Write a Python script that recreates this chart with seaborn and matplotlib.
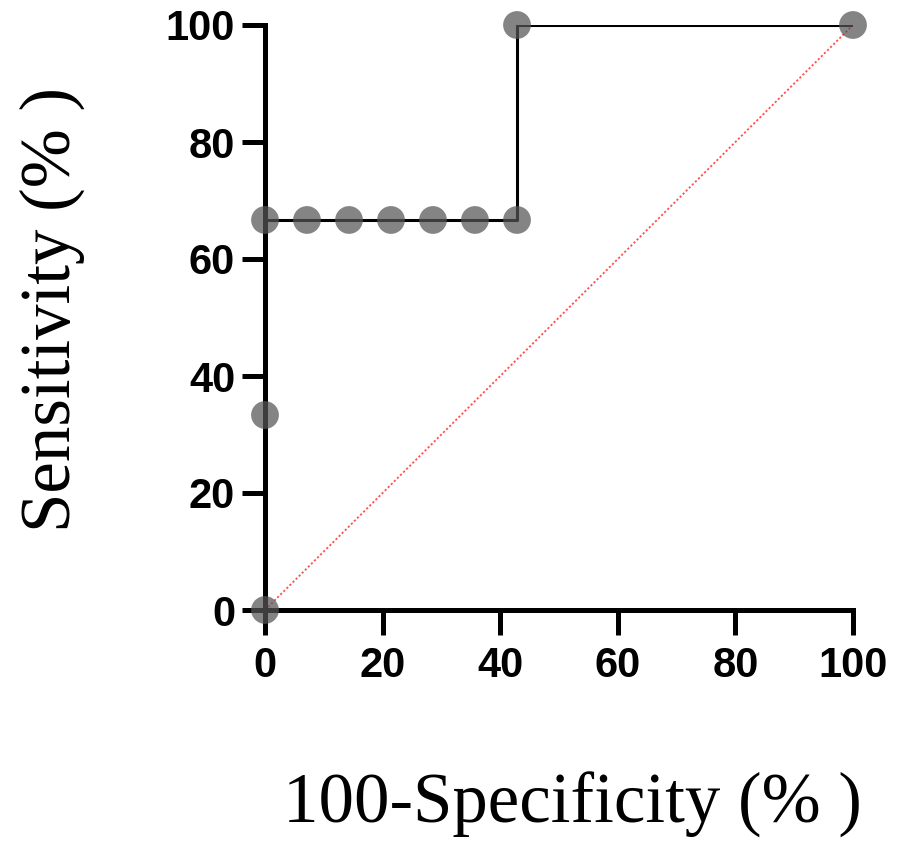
import matplotlib
matplotlib.use("Agg")
import matplotlib.pyplot as plt
import seaborn as sns
import pandas as pd

# ROC data (100-Specificity %, Sensitivity %)
fpr = [0, 0, 0, 7.14, 14.29, 21.43, 28.57, 35.71, 42.86, 42.86, 100]
tpr = [0, 33.33, 66.67, 66.67, 66.67, 66.67, 66.67, 66.67, 66.67, 100, 100]
diag_x = [0, 100]
diag_y = [0, 100]
xticks = [0, 20, 40, 60, 80, 100]
yticks = [0, 20, 40, 60, 80, 100]
xlabel = "100-Specificity (% )"
ylabel = "Sensitivity (% )"

df = pd.DataFrame({"x": fpr, "y": tpr})

sns.set_theme(style="white")
plt.rcParams["font.family"] = ["Liberation Sans", "DejaVu Sans"]
plt.rcParams["text.color"] = "black"

fig = plt.figure(figsize=(8.97, 8.5), dpi=100)
ax = fig.add_axes([265 / 897, 1 - 610 / 850, (853 - 265) / 897, (610 - 25) / 850])

sns.lineplot(data=df, x="x", y="y", sort=False, estimator=None, color="black",
             linewidth=2.2, ax=ax, zorder=3)
sns.scatterplot(data=df, x="x", y="y", color="#555555", alpha=0.72, s=400,
                edgecolor="none", ax=ax, zorder=4, clip_on=False)
ax.plot(diag_x, diag_y, linestyle=(0, (1.2, 1.2)), color="#ff5050", linewidth=1.3, zorder=2)

ax.set_xlim(0, 100)
ax.set_ylim(0, 100)
ax.set_xticks(xticks)
ax.set_yticks(yticks)
ax.set_xticklabels([str(t) for t in xticks], fontsize=30, fontweight="bold", color="black")
ax.set_yticklabels([str(t) for t in yticks], fontsize=30, fontweight="bold", color="black")

for side in ["top", "right"]:
    ax.spines[side].set_visible(False)
for side in ["left", "bottom"]:
    ax.spines[side].set_linewidth(3.6)
    ax.spines[side].set_color("black")

ax.tick_params(axis="x", direction="out", length=18, width=3.6, pad=8, colors="black")
ax.tick_params(axis="y", direction="out", length=16.5, width=3.6, pad=5, colors="black")
ax.xaxis.set_ticks_position("bottom")
ax.yaxis.set_ticks_position("left")
ax.set_xlabel("")
ax.set_ylabel("")

fig.text(572 / 897, 1 - 805 / 850, xlabel, fontsize=51, color="black",
         family=["Liberation Serif", "DejaVu Serif"], ha="center", va="center")
fig.text(52 / 897, 1 - 310 / 850, ylabel, fontsize=51, color="black", rotation=90,
         family=["Liberation Serif", "DejaVu Serif"], ha="center", va="center")

fig.savefig("out.png", dpi=100, facecolor="white")
